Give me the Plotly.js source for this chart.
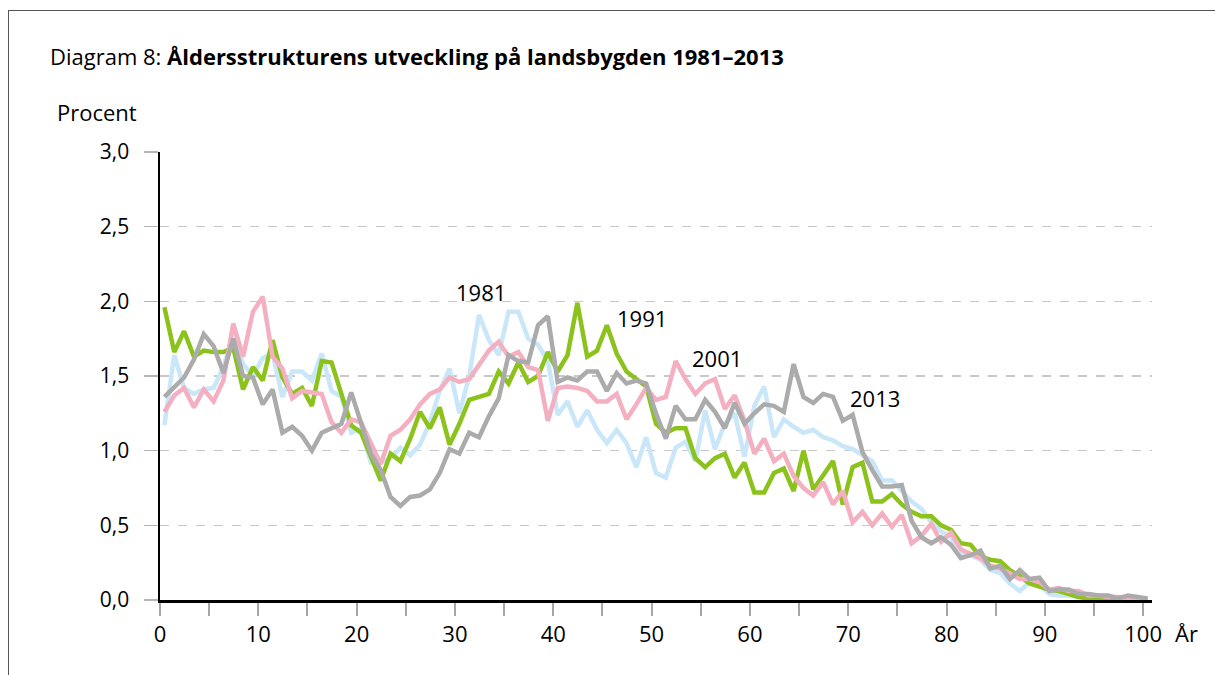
<!DOCTYPE html>
<html>
<head>
<meta charset="utf-8">
<script src="https://cdn.plot.ly/plotly-3.0.1.min.js"></script>
<style>
  body { margin: 0; background: #fff; }
  #chart { width: 1215px; height: 675px; }
  #frame {
    position: absolute; left: 8px; top: 10px; width: 1207px; height: 665px;
    border-left: 1px solid #555; border-top: 1px solid #555; pointer-events: none;
  }
</style>
</head>
<body>
<div id="chart"></div>
<div id="frame"></div>
<script>
const AGES = Array.from({ length: 101 }, (_, i) => i);

const Y1981 = [
    1.17, 1.64, 1.42, 1.38, 1.41, 1.42, 1.56, 1.78, 1.58, 1.50,
    1.62, 1.65, 1.36, 1.53, 1.53, 1.47, 1.65, 1.40, 1.36, 1.12,
    1.15, 0.92, 0.92, 0.95, 1.02, 0.97, 1.04, 1.19, 1.40, 1.55,
    1.25, 1.50, 1.91, 1.74, 1.64, 1.93, 1.93, 1.75, 1.71, 1.60,
    1.24, 1.33, 1.16, 1.27, 1.14, 1.05, 1.14, 1.05, 0.89, 1.09,
    0.85, 0.82, 1.02, 1.06, 0.93, 1.27, 1.01, 1.18, 1.25, 0.96,
    1.30, 1.43, 1.09, 1.21, 1.16, 1.12, 1.14, 1.09, 1.07, 1.03,
    1.01, 0.97, 0.93, 0.80, 0.80, 0.73, 0.66, 0.61, 0.52, 0.46,
    0.42, 0.31, 0.30, 0.27, 0.20, 0.18, 0.11, 0.06, 0.12, 0.10,
    0.04, 0.03, 0.03, 0.02, 0.02, 0.01, 0.01, 0.01, 0.00, 0.00,
    0.00,
];

const Y1991 = [
    1.96, 1.66, 1.80, 1.63, 1.67, 1.66, 1.66, 1.69, 1.41, 1.56,
    1.47, 1.74, 1.49, 1.38, 1.42, 1.30, 1.60, 1.59, 1.38, 1.17,
    1.12, 0.95, 0.80, 0.98, 0.93, 1.08, 1.26, 1.15, 1.29, 1.04,
    1.18, 1.34, 1.36, 1.38, 1.53, 1.45, 1.59, 1.46, 1.50, 1.66,
    1.53, 1.64, 1.99, 1.63, 1.67, 1.84, 1.65, 1.53, 1.48, 1.43,
    1.18, 1.12, 1.15, 1.15, 0.95, 0.89, 0.95, 0.98, 0.82, 0.92,
    0.72, 0.72, 0.85, 0.88, 0.73, 1.00, 0.74, 0.83, 0.93, 0.64,
    0.89, 0.92, 0.66, 0.66, 0.71, 0.64, 0.59, 0.56, 0.56, 0.50,
    0.47, 0.38, 0.37, 0.29, 0.27, 0.26, 0.20, 0.16, 0.11, 0.09,
    0.07, 0.06, 0.04, 0.02, 0.01, 0.01, 0.00, 0.00, 0.00, 0.00,
    0.00,
];

const Y2001 = [
    1.26, 1.37, 1.42, 1.29, 1.41, 1.33, 1.47, 1.85, 1.63, 1.93,
    2.03, 1.63, 1.55, 1.35, 1.40, 1.39, 1.38, 1.19, 1.12, 1.21,
    1.19, 1.05, 0.91, 1.10, 1.14, 1.21, 1.31, 1.38, 1.41, 1.49,
    1.46, 1.48, 1.57, 1.67, 1.73, 1.63, 1.66, 1.56, 1.54, 1.20,
    1.42, 1.43, 1.42, 1.40, 1.33, 1.33, 1.38, 1.21, 1.31, 1.42,
    1.34, 1.36, 1.60, 1.48, 1.38, 1.45, 1.48, 1.28, 1.37, 1.20,
    0.98, 1.08, 0.93, 0.98, 0.83, 0.75, 0.70, 0.79, 0.64, 0.73,
    0.52, 0.59, 0.50, 0.58, 0.49, 0.57, 0.38, 0.43, 0.51, 0.39,
    0.45, 0.34, 0.31, 0.28, 0.23, 0.21, 0.18, 0.14, 0.14, 0.12,
    0.07, 0.08, 0.06, 0.06, 0.03, 0.03, 0.02, 0.02, 0.01, 0.01,
    0.00,
];

const Y2013 = [
    1.36, 1.42, 1.49, 1.61, 1.78, 1.70, 1.52, 1.75, 1.50, 1.49,
    1.31, 1.41, 1.12, 1.16, 1.10, 1.00, 1.12, 1.15, 1.18, 1.39,
    1.18, 0.98, 0.87, 0.69, 0.63, 0.69, 0.70, 0.74, 0.85, 1.01,
    0.98, 1.12, 1.09, 1.23, 1.35, 1.64, 1.60, 1.59, 1.84, 1.90,
    1.46, 1.49, 1.47, 1.53, 1.53, 1.40, 1.52, 1.45, 1.47, 1.45,
    1.25, 1.08, 1.30, 1.21, 1.21, 1.34, 1.26, 1.15, 1.32, 1.18,
    1.25, 1.31, 1.30, 1.26, 1.58, 1.36, 1.32, 1.38, 1.36, 1.20,
    1.24, 0.99, 0.87, 0.76, 0.76, 0.77, 0.53, 0.42, 0.38, 0.42,
    0.37, 0.28, 0.30, 0.33, 0.21, 0.23, 0.14, 0.20, 0.14, 0.15,
    0.06, 0.07, 0.07, 0.04, 0.04, 0.03, 0.03, 0.01, 0.03, 0.02,
    0.01,
];

const SERIES = [
    { name: '1981', y: Y1981, color: '#c9e7f8', label: [32.2, 2.06] },
    { name: '1991', y: Y1991, color: '#8cc21c', label: [48.6, 1.89] },
    { name: '2001', y: Y2001, color: '#f4afc1', label: [56.2, 1.62] },
    { name: '2013', y: Y2013, color: '#ababab', label: [72.3, 1.35] },
];

const X_TICKS = Array.from({ length: 21 }, (_, i) => i * 5);
const FONT = 'Open Sans, sans-serif';

const traces = SERIES.map(s => ({
    x: AGES,
    y: s.y,
    type: 'scatter',
    mode: 'lines',
    name: s.name,
    line: { color: s.color, width: 4.5 },
    hoverinfo: 'skip',
}));

const annotations = SERIES.map(s => ({
    x: s.label[0], y: s.label[1], xref: 'x', yref: 'y',
    text: s.name, showarrow: false,
    font: { size: 22, color: '#000' },
}));

annotations.push(
    {
        x: -0.1129, y: 1.214, xref: 'paper', yref: 'paper', xanchor: 'left', yanchor: 'middle',
        text: 'Diagram 8: <b>Åldersstrukturens utveckling på landsbygden 1981–2013</b>',
        showarrow: false, font: { size: 22, color: '#000' },
    },
    {
        x: -0.1058, y: 1.089, xref: 'paper', yref: 'paper', xanchor: 'left', yanchor: 'middle',
        text: 'Procent', showarrow: false, font: { size: 22, color: '#000' },
    },
    {
        x: 1.0213, y: -0.074, xref: 'paper', yref: 'paper', xanchor: 'left', yanchor: 'middle',
        text: 'År', showarrow: false, font: { size: 22, color: '#000' },
    },
);

const layout = {
    width: 1215,
    height: 675,
    paper_bgcolor: '#fff',
    plot_bgcolor: '#fff',
    font: { family: FONT, color: '#000', size: 21 },
    margin: { t: 152, r: 63, b: 75, l: 160 },
    showlegend: false,
    separators: ', ',
    xaxis: {
        range: [-0.45, 100.45],
        tickvals: X_TICKS.map(v => v - 0.45),
        ticktext: X_TICKS.map(v => (v % 10 === 0 ? String(v) : '')),
        ticks: 'outside', ticklen: 13, tickwidth: 2, tickcolor: '#a6a6a6',
        showline: true, linecolor: '#000', linewidth: 3,
        showgrid: false, zeroline: false,
        tickfont: { size: 22 },
    },
    yaxis: {
        range: [0, 3],
        dtick: 0.5,
        tickformat: '.1f',
        ticks: 'outside', ticklen: 14, tickwidth: 1.5, tickcolor: '#b4b4b4',
        ticklabelstandoff: 10,
        showline: true, linecolor: '#000', linewidth: 2.5,
        showgrid: true, gridcolor: '#c8c8c8', griddash: 'dash', gridwidth: 1.2,
        zeroline: false,
        tickfont: { size: 21 },
    },
    annotations,
};

Plotly.newPlot('chart', traces, layout, { displayModeBar: false, staticPlot: true });
</script>
</body>
</html>
